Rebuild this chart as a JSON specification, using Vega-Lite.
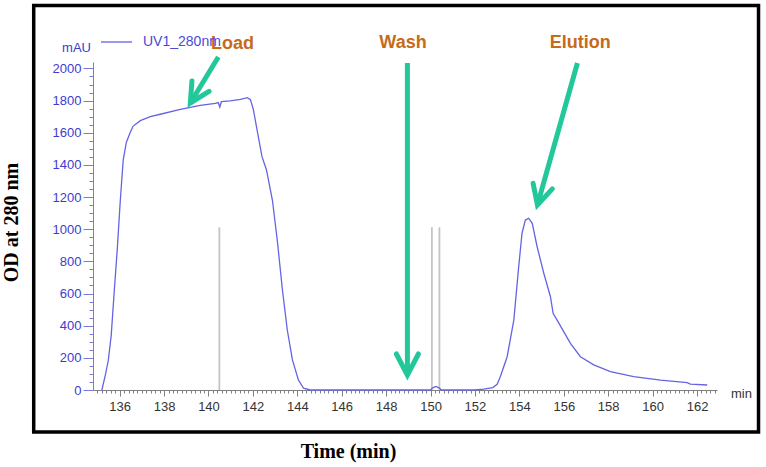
{
  "$schema": "https://vega.github.io/schema/vega-lite/v6.json",
  "width": 624,
  "height": 328,
  "autosize": "none",
  "padding": {"left": 93, "top": 62, "right": 49, "bottom": 77},
  "background": "white",
  "config": {"view": {"stroke": null}},
  "datasets": {
    "chrom": [
      {"t": 135.2, "v": 0}, {"t": 135.35, "v": 90}, {"t": 135.49, "v": 185}, {"t": 135.62, "v": 340},
      {"t": 135.76, "v": 620}, {"t": 135.89, "v": 870}, {"t": 136.03, "v": 1180}, {"t": 136.16, "v": 1430},
      {"t": 136.3, "v": 1540}, {"t": 136.47, "v": 1600}, {"t": 136.6, "v": 1640}, {"t": 136.93, "v": 1675},
      {"t": 137.38, "v": 1700}, {"t": 137.83, "v": 1715}, {"t": 138.73, "v": 1745}, {"t": 139.63, "v": 1770},
      {"t": 140.31, "v": 1782}, {"t": 140.44, "v": 1788}, {"t": 140.51, "v": 1760}, {"t": 140.58, "v": 1793},
      {"t": 140.98, "v": 1798}, {"t": 141.44, "v": 1808}, {"t": 141.75, "v": 1818}, {"t": 141.89, "v": 1805},
      {"t": 142.02, "v": 1745}, {"t": 142.19, "v": 1617}, {"t": 142.41, "v": 1451}, {"t": 142.61, "v": 1370},
      {"t": 142.88, "v": 1180}, {"t": 143.1, "v": 930}, {"t": 143.33, "v": 622}, {"t": 143.55, "v": 373},
      {"t": 143.78, "v": 187}, {"t": 144.05, "v": 62}, {"t": 144.28, "v": 12}, {"t": 144.59, "v": 0},
      {"t": 150.0, "v": 0}, {"t": 150.08, "v": 12}, {"t": 150.24, "v": 22}, {"t": 150.4, "v": 12},
      {"t": 150.49, "v": 0}, {"t": 152.0, "v": 0}, {"t": 152.4, "v": 5}, {"t": 152.8, "v": 15},
      {"t": 153.0, "v": 35}, {"t": 153.15, "v": 85}, {"t": 153.45, "v": 207}, {"t": 153.75, "v": 435},
      {"t": 153.97, "v": 767}, {"t": 154.12, "v": 975}, {"t": 154.27, "v": 1057}, {"t": 154.42, "v": 1068},
      {"t": 154.58, "v": 1037}, {"t": 154.8, "v": 891}, {"t": 155.1, "v": 726}, {"t": 155.4, "v": 580},
      {"t": 155.52, "v": 477}, {"t": 155.7, "v": 435}, {"t": 156.3, "v": 290}, {"t": 156.75, "v": 207},
      {"t": 157.35, "v": 156}, {"t": 158.1, "v": 114}, {"t": 159.15, "v": 83}, {"t": 160.36, "v": 62},
      {"t": 161.56, "v": 46}, {"t": 161.7, "v": 37}, {"t": 162.46, "v": 31}
    ],
    "markers": [{"t": 140.49}, {"t": 150.06}, {"t": 150.4}],
    "shafts": [
      {"t": 140.444, "v": 2071, "t2": 139.183, "v2": 1785},
      {"t": 148.958, "v": 2034, "t2": 148.958, "v2": 93},
      {"t": 156.615, "v": 2034, "t2": 154.814, "v2": 1151}
    ],
    "heads": [
      {"arrow": "load", "i": 1, "t": 140.025, "v": 1857},
      {"arrow": "load", "i": 2, "t": 139.183, "v": 1785},
      {"arrow": "load", "i": 3, "t": 139.255, "v": 1922},
      {"arrow": "wash", "i": 1, "t": 148.462, "v": 224},
      {"arrow": "wash", "i": 2, "t": 148.958, "v": 93},
      {"arrow": "wash", "i": 3, "t": 149.453, "v": 224},
      {"arrow": "elution", "i": 1, "t": 155.485, "v": 1251},
      {"arrow": "elution", "i": 2, "t": 154.814, "v": 1151},
      {"arrow": "elution", "i": 3, "t": 154.62, "v": 1285}
    ],
    "labels": [
      {"t": 141.08, "v": 2155, "label": "Load"},
      {"t": 148.76, "v": 2161, "label": "Wash"},
      {"t": 156.74, "v": 2161, "label": "Elution"}
    ]
  },
  "layer": [
    {
      "data": {"name": "markers"},
      "mark": {"type": "rule", "color": "#c4c4c4", "strokeWidth": 1.8},
      "encoding": {
        "x": {"field": "t", "type": "quantitative"},
        "y": {"datum": 0, "type": "quantitative"},
        "y2": {"datum": 1012}
      }
    },
    {
      "data": {"name": "chrom"},
      "mark": {"type": "line", "strokeWidth": 1.3, "interpolate": "linear"},
      "encoding": {
        "x": {
          "field": "t", "type": "quantitative",
          "scale": {"domain": [134.8, 162.9], "nice": false, "zero": false},
          "axis": {
            "title": "Time (min)",
            "values": [135,135.2,135.4,135.6,135.8,136,136.2,136.4,136.6,136.8,137,137.2,137.4,137.6,137.8,138,138.2,138.4,138.6,138.8,139,139.2,139.4,139.6,139.8,140,140.2,140.4,140.6,140.8,141,141.2,141.4,141.6,141.8,142,142.2,142.4,142.6,142.8,143,143.2,143.4,143.6,143.8,144,144.2,144.4,144.6,144.8,145,145.2,145.4,145.6,145.8,146,146.2,146.4,146.6,146.8,147,147.2,147.4,147.6,147.8,148,148.2,148.4,148.6,148.8,149,149.2,149.4,149.6,149.8,150,150.2,150.4,150.6,150.8,151,151.2,151.4,151.6,151.8,152,152.2,152.4,152.6,152.8,153,153.2,153.4,153.6,153.8,154,154.2,154.4,154.6,154.8,155,155.2,155.4,155.6,155.8,156,156.2,156.4,156.6,156.8,157,157.2,157.4,157.6,157.8,158,158.2,158.4,158.6,158.8,159,159.2,159.4,159.6,159.8,160,160.2,160.4,160.6,160.8,161,161.2,161.4,161.6,161.8,162,162.2,162.4,162.6,162.8],
            "tickCount": 1000,
            "tickMinStep": 0.01,
            "labelExpr": "datum.value % 2 === 0 ? format(datum.value, 'd') : ''",
            "labelOverlap": false,
            "labelFlush": false,
            "labelFont": "Liberation Sans",
            "labelFontSize": 13,
            "labelColor": "#333333",
            "labelPadding": 4,
            "tickSize": {"condition": {"test": "datum.value % 2 === 0", "value": 6}, "value": 3},
            "tickColor": "#808080",
            "tickWidth": 1,
            "domainColor": "#808080",
            "domainWidth": 1,
            "grid": false,
            "titleFont": "Liberation Serif",
            "titleFontSize": 20,
            "titleFontWeight": "bold",
            "titleColor": "#000000",
            "titleX": 255,
            "titleY": 61,
            "titleAlign": "center",
            "titleBaseline": "middle"
          }
        },
        "y": {
          "field": "v", "type": "quantitative",
          "scale": {"domain": [0, 2040], "nice": false, "zero": false},
          "axis": {
            "title": "OD at 280 nm",
            "values": [0,50,100,150,200,250,300,350,400,450,500,550,600,650,700,750,800,850,900,950,1000,1050,1100,1150,1200,1250,1300,1350,1400,1450,1500,1550,1600,1650,1700,1750,1800,1850,1900,1950,2000],
            "tickCount": 1000,
            "format": "d",
            "labelExpr": "datum.value % 200 === 0 ? datum.label : ''",
            "labelOverlap": false,
            "labelFont": "Liberation Sans",
            "labelFontSize": 13,
            "labelColor": "#3c3cd0",
            "labelPadding": 2,
            "tickSize": {"condition": {"test": "datum.value % 200 === 0", "value": 10}, "value": 4},
            "tickColor": "#7b7bd6",
            "tickWidth": 1,
            "domainColor": "#7b7bd6",
            "domainWidth": 1,
            "grid": false,
            "titleFont": "Liberation Serif",
            "titleFontSize": 20,
            "titleFontWeight": "bold",
            "titleColor": "#000000",
            "titleX": -82,
            "titleY": 160,
            "titleAngle": -90,
            "titleAlign": "center",
            "titleBaseline": "middle"
          }
        },
        "color": {
          "datum": "UV1_280nm", "type": "nominal",
          "scale": {"range": ["#6464e4"]},
          "legend": {
            "orient": "none", "legendX": 7, "legendY": -36.5, "title": null,
            "symbolType": "stroke", "symbolSize": 961, "symbolStrokeWidth": 1.3,
            "labelFont": "Liberation Sans", "labelFontSize": 14, "labelColor": "#4a4ad8",
            "labelOffset": 10, "padding": 0
          }
        }
      }
    },
    {
      "data": {"name": "shafts"},
      "mark": {"type": "rule", "color": "#22c79a", "strokeWidth": 5},
      "encoding": {
        "x": {"field": "t", "type": "quantitative"},
        "y": {"field": "v", "type": "quantitative"},
        "x2": {"field": "t2"},
        "y2": {"field": "v2"}
      }
    },
    {
      "data": {"name": "heads"},
      "mark": {"type": "line", "color": "#22c79a", "strokeWidth": 5, "strokeJoin": "miter", "strokeCap": "round"},
      "encoding": {
        "x": {"field": "t", "type": "quantitative"},
        "y": {"field": "v", "type": "quantitative"},
        "detail": {"field": "arrow"},
        "order": {"field": "i"}
      }
    },
    {
      "data": {"name": "labels"},
      "mark": {"type": "text", "font": "Liberation Sans", "fontSize": 18, "fontWeight": "bold", "color": "#c66a1b", "align": "center", "baseline": "middle"},
      "encoding": {
        "x": {"field": "t", "type": "quantitative"},
        "y": {"field": "v", "type": "quantitative"},
        "text": {"field": "label"}
      }
    },
    {
      "data": {"values": [{"unit": "mAU"}]},
      "mark": {"type": "text", "font": "Liberation Sans", "fontSize": 13, "color": "#3c3cd0", "align": "right", "baseline": "middle"},
      "encoding": {
        "x": {"datum": 134.71, "type": "quantitative"},
        "y": {"datum": 2130, "type": "quantitative"},
        "text": {"field": "unit"}
      }
    },
    {
      "data": {"values": [{"unit": "min"}]},
      "mark": {"type": "text", "font": "Liberation Sans", "fontSize": 13, "color": "#333333", "align": "center", "baseline": "middle"},
      "encoding": {
        "x": {"datum": 164.0, "type": "quantitative"},
        "y": {"datum": -25, "type": "quantitative"},
        "text": {"field": "unit"}
      }
    },
    {
      "data": {"values": [{"frame": "box"}]},
      "mark": {"type": "rect", "fill": null, "fillOpacity": 0, "stroke": "#000000", "strokeWidth": 3.5},
      "encoding": {
        "x": {"datum": 132.13, "type": "quantitative"},
        "x2": {"datum": 164.77},
        "y": {"datum": -261, "type": "quantitative"},
        "y2": {"datum": 2391}
      }
    }
  ]
}
